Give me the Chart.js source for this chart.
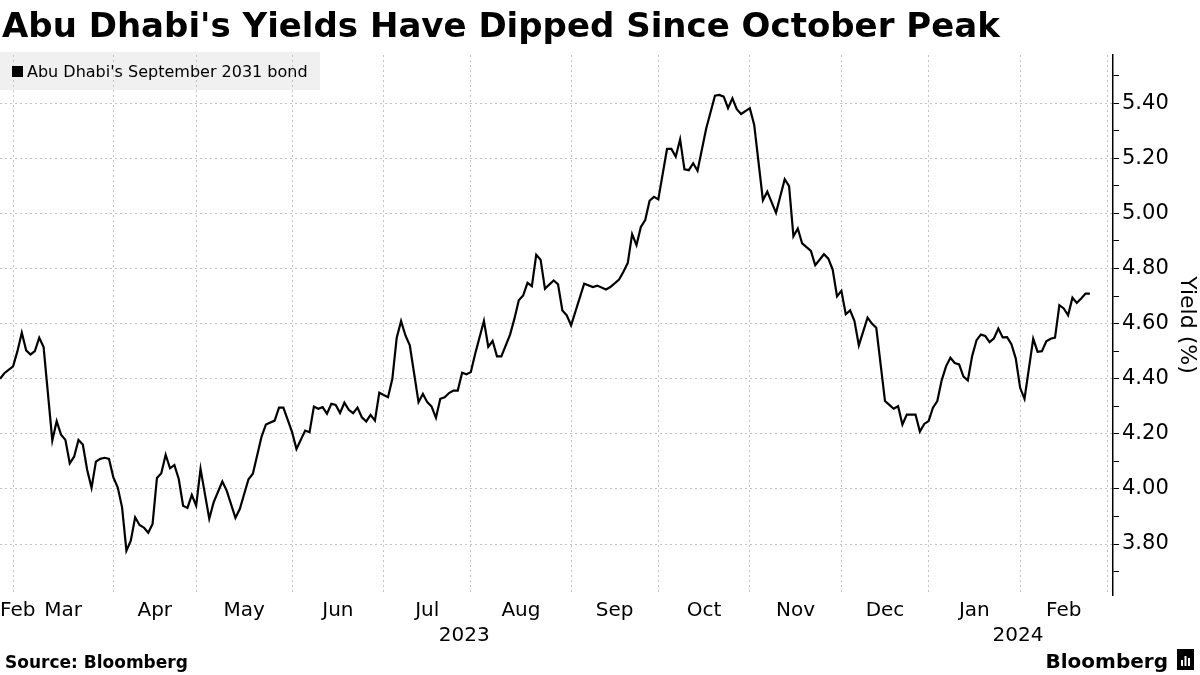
<!DOCTYPE html>
<html lang="en">
<head>
<meta charset="UTF-8">
<title>Abu Dhabi's Yields Have Dipped Since October Peak</title>
<script src="https://cdn.jsdelivr.net/npm/chart.js"></script>
<style>
  html, body { margin: 0; padding: 0; background: #fff; }
  #wrap { position: relative; width: 1200px; height: 675px; }
</style>
</head>
<body>
<div id="wrap"><canvas id="yieldChart"></canvas></div>
<script>
// trading-day index since the start of the window, and the yield on that day
const tradingDay = [
  0, 1, 3, 4, 5, 6, 7, 8, 9, 10, 12, 13, 14, 15, 16, 17, 18, 19, 20, 21,
  22, 23, 24, 25, 26, 27, 28, 29, 30, 31, 32, 33, 34, 35, 36, 37, 38, 39, 40, 41,
  42, 43, 44, 45, 46, 47, 48, 49, 51, 52, 54, 55, 57, 58, 60, 61, 63, 64, 65, 67,
  68, 70, 71, 72, 73, 74, 75, 76, 77, 78, 79, 80, 81, 82, 83, 84, 85, 86, 87, 89,
  90, 91, 92, 93, 94, 95, 96, 97, 98, 99, 100, 101, 102, 103, 104, 105, 106, 107, 108, 109,
  111, 112, 113, 114, 115, 117, 118, 119, 120, 121, 122, 123, 124, 125, 127, 128, 129, 130, 131, 134,
  136, 137, 139, 140, 142, 143, 144, 145, 146, 147, 148, 149, 150, 151, 153, 154, 155, 156, 157, 158,
  159, 160, 162, 164, 165, 166, 167, 168, 169, 170, 172, 173, 175, 176, 178, 180, 181, 182, 183, 184,
  186, 187, 189, 190, 191, 192, 193, 194, 195, 196, 197, 199, 200, 201, 203, 204, 205, 206, 207, 208,
  210, 211, 212, 213, 214, 215, 216, 217, 218, 219, 220, 221, 222, 223, 224, 225, 226, 227, 228, 229,
  230, 231, 232, 233, 234, 235, 237, 238, 239, 240, 241, 242, 243, 244, 245, 246, 247, 248, 249, 250
];
const yieldPct = [
  4.40, 4.42, 4.445, 4.50, 4.567, 4.503, 4.488, 4.50, 4.549, 4.515, 4.176, 4.246, 4.197, 4.178, 4.093, 4.117, 4.178, 4.161, 4.069, 4.004,
  4.099, 4.109, 4.113, 4.109, 4.042, 4.006, 3.933, 3.776, 3.812, 3.897, 3.869, 3.860, 3.841, 3.873, 4.040, 4.057, 4.124, 4.075, 4.087, 4.036,
  3.939, 3.931, 3.978, 3.939, 4.073, 3.982, 3.892, 3.951, 4.027, 3.994, 3.895, 3.927, 4.035, 4.055, 4.19, 4.234, 4.248, 4.295, 4.295, 4.206,
  4.145, 4.212, 4.206, 4.299, 4.291, 4.297, 4.273, 4.309, 4.305, 4.276, 4.313, 4.287, 4.275, 4.295, 4.260, 4.245, 4.269, 4.248, 4.349, 4.333,
  4.400, 4.549, 4.609, 4.557, 4.521, 4.418, 4.315, 4.345, 4.315, 4.299, 4.258, 4.327, 4.333, 4.348, 4.357, 4.357, 4.422, 4.416, 4.424, 4.491,
  4.610, 4.516, 4.537, 4.481, 4.481, 4.56, 4.618, 4.685, 4.702, 4.748, 4.736, 4.850, 4.832, 4.727, 4.757, 4.743, 4.648, 4.630, 4.594, 4.745,
  4.733, 4.738, 4.724, 4.733, 4.760, 4.788, 4.820, 4.925, 4.885, 4.951, 4.976, 5.046, 5.060, 5.051, 5.234, 5.234, 5.206, 5.269, 5.160, 5.157,
  5.182, 5.155, 5.309, 5.427, 5.430, 5.424, 5.382, 5.418, 5.378, 5.361, 5.382, 5.321, 5.048, 5.079, 5.002, 5.124, 5.099, 4.917, 4.945, 4.891,
  4.864, 4.812, 4.852, 4.836, 4.796, 4.699, 4.719, 4.634, 4.648, 4.609, 4.521, 4.622, 4.600, 4.585, 4.319, 4.305, 4.291, 4.300, 4.234, 4.270,
  4.270, 4.208, 4.236, 4.246, 4.295, 4.319, 4.394, 4.445, 4.476, 4.457, 4.452, 4.408, 4.394, 4.483, 4.540, 4.560, 4.555, 4.533, 4.547, 4.582,
  4.550, 4.551, 4.525, 4.473, 4.367, 4.327, 4.545, 4.498, 4.500, 4.536, 4.545, 4.549, 4.667, 4.655, 4.630, 4.694, 4.675, 4.691, 4.709, 4.709
];

// month names and the trading day on which each month ends
const monthLabels = ['Feb', 'Mar', 'Apr', 'May', 'Jun', 'Jul', 'Aug', 'Sep', 'Oct', 'Nov', 'Dec', 'Jan', 'Feb'];
const monthEndDay = [3, 26, 45, 67, 88, 108, 131, 151, 172, 193, 213, 234, 254];
const yearLabels = ['2023', '2024'];
const yearEndDay = [213, 254];
const yTicks = [3.7, 3.8, 3.9, 4.0, 4.1, 4.2, 4.3, 4.4, 4.5, 4.6, 4.7, 4.8, 4.9, 5.0, 5.1, 5.2, 5.3, 5.4, 5.5];

const FONT = '"DejaVu Sans", sans-serif';
const GRID = '#c4c4c4';
const isMajor = v => Math.round(v * 10) % 2 === 0;

// title, legend chip and footer
const frame = {
  id: 'frame',
  beforeDraw(chart) {
    const ctx = chart.ctx;
    ctx.save();
    ctx.fillStyle = '#fff';
    ctx.fillRect(0, 0, chart.width, chart.height);

    ctx.fillStyle = '#000';
    ctx.textBaseline = 'alphabetic';
    ctx.font = 'bold 34px ' + FONT;
    ctx.fillText("Abu Dhabi's Yields Have Dipped Since October Peak", 2, 37);

    // legend background sits under the grid
    ctx.fillStyle = '#f0f0f0';
    ctx.fillRect(0, 52, 320, 38);

    ctx.fillStyle = '#000';
    ctx.font = 'bold 17px ' + FONT;
    ctx.fillText('Source: Bloomberg', 5, 668);
    ctx.font = 'bold 20px ' + FONT;
    ctx.textAlign = 'right';
    ctx.fillText('Bloomberg', 1168, 668);
    ctx.fillRect(1177, 649, 17, 21);
    ctx.fillStyle = '#fff';
    ctx.fillRect(1181, 660, 2, 6);
    ctx.fillRect(1184.5, 656, 2, 10);
    ctx.fillRect(1188, 658, 2, 8);
    ctx.restore();
  },
  afterDraw(chart) {
    const ctx = chart.ctx;
    const x = chart.scales.x;
    const bottom = chart.chartArea.bottom;
    ctx.save();
    ctx.fillStyle = '#000';
    ctx.fillRect(12, 66, 11, 11);
    ctx.textBaseline = 'alphabetic';
    ctx.font = '16px ' + FONT;
    ctx.fillText(chart.data.datasets[0].label, 27, 77);

    ctx.textAlign = 'center';
    ctx.textBaseline = 'middle';
    ctx.font = '20px ' + FONT;
    monthLabels.forEach((m, i) => {
      const a = i === 0 ? x.min : monthEndDay[i - 1];
      let cx = x.getPixelForValue((a + monthEndDay[i]) / 2);
      cx = Math.max(cx, ctx.measureText(m).width / 2);
      ctx.fillText(m, cx, bottom + 16);
    });
    yearLabels.forEach((yr, i) => {
      const a = i === 0 ? x.min : yearEndDay[i - 1];
      ctx.fillText(yr, x.getPixelForValue((a + yearEndDay[i]) / 2), bottom + 41);
    });
    ctx.restore();
  }
};

new Chart(document.getElementById('yieldChart'), {
  type: 'line',
  data: {
    datasets: [{
      label: "Abu Dhabi's September 2031 bond",
      data: tradingDay.map((d, i) => ({ x: d, y: yieldPct[i] })),
      borderColor: '#000',
      borderWidth: 2.2,
      pointRadius: 0,
      tension: 0
    }]
  },
  options: {
    responsive: true,
    maintainAspectRatio: false,
    animation: false,
    layout: { padding: { top: 55, bottom: 80, left: 0, right: 0 } },
    plugins: { legend: { display: false }, tooltip: { enabled: false } },
    scales: {
      x: {
        type: 'linear',
        min: 0,
        max: 255.3,
        afterBuildTicks: s => { s.ticks = monthEndDay.map(v => ({ value: v })); },
        ticks: { display: false },
        grid: { color: GRID, drawTicks: false, lineWidth: 1 },
        border: { display: false, dash: [2, 3] }
      },
      y: {
        position: 'right',
        min: 3.615,
        max: 5.575,
        afterBuildTicks: s => { s.ticks = yTicks.map(v => ({ value: v })); },
        afterFit: s => { s.width = 87; },
        ticks: {
          autoSkip: false,
          callback: v => isMajor(v) ? v.toFixed(2) : '',
          color: '#000',
          padding: 3,
          font: { family: FONT, size: 21 }
        },
        grid: {
          color: c => (c.tick && isMajor(c.tick.value)) ? GRID : 'rgba(0,0,0,0)',
          tickColor: '#000',
          tickLength: 6,
          lineWidth: 1
        },
        border: { display: true, color: '#000', width: 1.5, dash: [2, 3] },
        title: {
          display: true,
          text: 'Yield (%)',
          color: '#000',
          font: { family: FONT, size: 22 },
          padding: { top: 0, bottom: 2 }
        }
      }
    }
  },
  plugins: [frame]
});
</script>
</body>
</html>
